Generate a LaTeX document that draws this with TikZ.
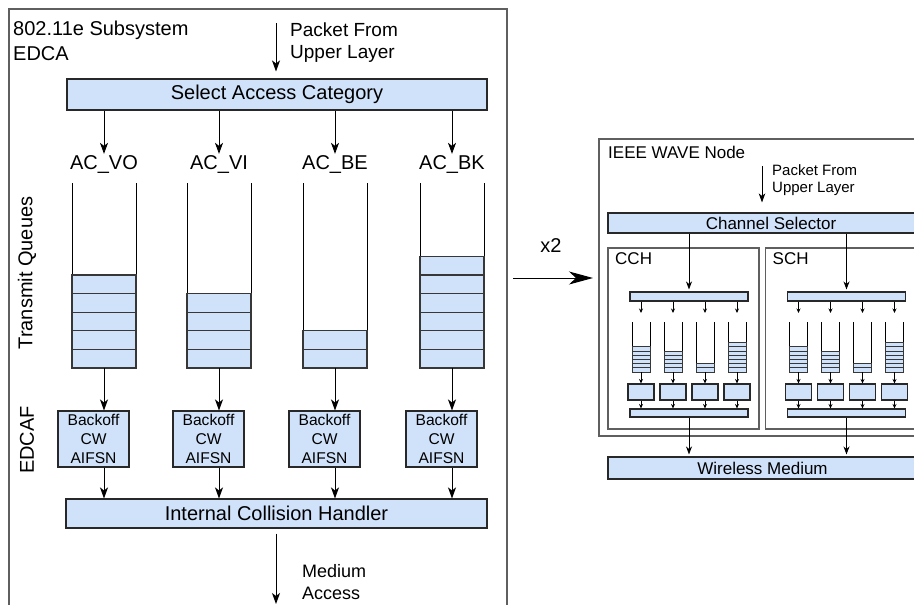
\documentclass[tikz,border=0pt]{standalone}
\usepackage{fontspec}
\setmainfont{Liberation Sans}
\usetikzlibrary{arrows.meta}
\definecolor{boxblue}{RGB}{208,226,250}
\definecolor{boxline}{RGB}{40,40,40}
\definecolor{frameline}{RGB}{95,95,95}
\definecolor{slotline}{RGB}{55,55,55}
\tikzset{
  /tikz/.cd,
  bar/.style={draw=boxline,fill=boxblue,line width=1.1pt,inner sep=0pt},
  frame/.style={draw=frameline,line width=1.1pt},
  arr/.style={-{Stealth[length=11pt,width=8pt,inset=3pt]},line width=0.9pt},
  tiny/.style={-{Stealth[length=4.5pt,width=4pt,inset=1.5pt]},line width=0.8pt}
}

\begin{document}
\begin{tikzpicture}[x=1pt,y=-1pt,
    big/.style={font=\fontsize{20}{25}\selectfont},
    mid/.style={font=\fontsize{19}{22}\selectfont},
    note/.style={font=\fontsize{18}{22}\selectfont},
    small/.style={font=\fontsize{15.6}{19}\selectfont},
    rlab/.style={font=\fontsize{17}{20}\selectfont},
    rnote/.style={font=\fontsize{15}{17}\selectfont},
    wall/.style={draw=black,line width=1pt},
    slot/.style={draw=slotline,fill=boxblue,line width=1.2pt}]
  \useasboundingbox (0,0) rectangle (914,605);
  \clip (0,0) rectangle (914,605);

  % 802.11e subsystem
  \draw[frame] (9,640) -- (9,9) -- (507,9) -- (507,640);
  \node[big,align=left,anchor=north west,inner sep=0pt] (title) at (13,21.2) {802.11e Subsystem\\EDCA};
  \node[bar,big,minimum width=420pt,minimum height=31pt] (sac) at (277,94.5) {Select Access Category};
  \coordinate (pin) at (276,23);
  \node[mid,align=left,anchor=north west,inner sep=0pt] (pkt) at (290,22.2) {Packet From\\Upper Layer};
  \draw[arr,shorten >=7pt] (pin) -- (sac.north -| pin);

  \node[big,rotate=90] (tq) at (27,273) {Transmit Queues};
  \node[big,rotate=90] (edcaf) at (27,440) {EDCAF};

  \node[bar,big,minimum width=421pt,minimum height=29pt] (ich) at (276.5,513.5) {Internal Collision Handler};

  % one queue per access category
  \foreach \x/\n/\nm/\lab in {104/5/vo/AC\_VO,219/4/vi/AC\_VI,335/2/be/AC\_BE,452/6/bk/AC\_BK}{
    \node[big,anchor=base,inner sep=1pt] (ac\nm) at (\x,169) {\lab};
    \draw[arr] (sac.south -| ac\nm) -- (ac\nm.north);
    \draw[wall] (\x-32,183) -- (\x-32,368) (\x+32,183) -- (\x+32,368);
    \foreach \k in {1,...,\n}
      \draw[slot] (\x-32,368-\k*18.6) rectangle ++(64,18.6);
    \coordinate (q\nm) at (\x,368);
    \node[bar,small,minimum width=71pt,minimum height=56pt,align=center] (bo\nm) at (\x-10.5,439) {Backoff\\CW\\AIFSN};
    \draw[arr] (q\nm) -- (bo\nm.north -| q\nm);
    \draw[arr] (bo\nm.south -| q\nm) -- (ich.north -| q\nm);
  }

  \coordinate (mout) at (276,604);
  \draw[arr,shorten <=5pt] (ich.south -| mout) -- (mout);
  \node[note,align=left,anchor=north west,inner sep=0pt] (medacc) at (302,563.9) {Medium\\Access};

  % x2
  \coordinate (xa) at (513,278);
  \coordinate (xb) at (593,278);
  \draw[-{Stealth[length=24pt,width=13pt,inset=7pt]},line width=1pt] (xa) -- (xb);
  \node[big,anchor=base] (times) at (551,252) {x2};

  % IEEE WAVE node
  \draw[frame] (940,139) -- (599,139) -- (599,436) -- (940,436);
  \node[rlab,anchor=north west,inner sep=0pt] (wave) at (608,145.6) {IEEE WAVE Node};
  \coordinate (rin) at (762,166);
  \node[rnote,align=left,anchor=north west,inner sep=0pt] (rpkt) at (772,164) {Packet From\\Upper Layer};
  \node[bar,rlab,minimum width=326pt,minimum height=20pt] (chs) at (771,223) {Channel Selector};
  \draw[arr,shorten >=10pt,-{Stealth[length=9pt,width=6.5pt,inset=2.5pt]}] (rin) -- (chs.north -| rin);
  \node[bar,rlab,minimum width=309pt,minimum height=22pt] (wm) at (762.5,468) {Wireless Medium};

  \foreach \dx/\ch/\lab in {0/c/CCH,157.5/s/SCH}{
    \begin{scope}[xshift=\dx pt]
      \draw[frame] (608,248) rectangle (759,429);
      \node[rlab,anchor=north west,inner sep=0pt] (\ch lab) at (615,252.8) {\lab};
      \node[bar,minimum width=118pt,minimum height=9pt] (\ch top) at (689,296.5) {};
      \node[bar,minimum width=118pt,minimum height=8pt] (\ch bot) at (689,413) {};
      \draw[arr,-{Stealth[length=8pt,width=6pt,inset=2.5pt]},shorten >=2pt] (chs.south -| \ch top) -- (\ch top.north);
      \draw[arr,-{Stealth[length=8pt,width=6pt,inset=2.5pt]},shorten >=2pt] (\ch bot.south) -- (wm.north -| \ch bot);
      \foreach \x/\n/\q in {641/6/a,673/5/b,705/2/c,737/7/d}{
        \draw[wall,line width=0.8pt] (\x-9,322) -- (\x-9,372) (\x+9,322) -- (\x+9,372);
        \foreach \k in {1,...,\n}
          \draw[slot,line width=0.9pt] (\x-9,372-\k*4.2) rectangle ++(18,4.2);
        \coordinate (\ch t\q) at (\x,313);
        \coordinate (\ch q\q) at (\x,372);
        \node[bar,minimum width=26pt,minimum height=16pt] (\ch b\q) at (\x,392) {};
        \draw[tiny] (\ch top.south -| \ch t\q) -- (\ch t\q);
        \draw[tiny] (\ch q\q) -- (\ch b\q.north -| \ch q\q);
        \draw[tiny] (\ch b\q.south -| \ch q\q) -- (\ch bot.north -| \ch q\q);
      }
    \end{scope}
  }
\end{tikzpicture}
\end{document}
